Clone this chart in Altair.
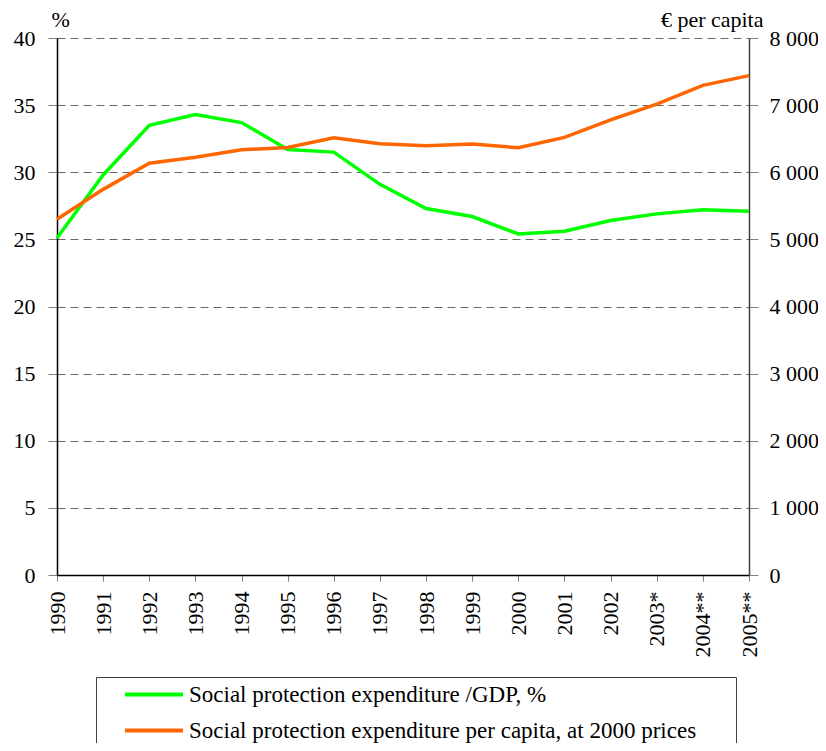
import altair as alt
import pandas as pd

years = ["1990", "1991", "1992", "1993", "1994", "1995", "1996", "1997",
         "1998", "1999", "2000", "2001", "2002", "2003*", "2004**", "2005**"]
gdp_share = [25.1, 29.8, 33.5, 34.3, 33.7, 31.7, 31.5, 29.1,
             27.3, 26.7, 25.4, 25.6, 26.4, 26.9, 27.2, 27.1]
per_capita = [5300, 5745, 6135, 6225, 6335, 6370, 6515, 6425,
              6395, 6420, 6365, 6520, 6780, 7015, 7295, 7440]
series = ["Social protection expenditure /GDP, %",
          "Social protection expenditure per capita, at 2000 prices"]
colors = ["#00FF00", "#FF6600"]
left_ticks = [0, 5, 10, 15, 20, 25, 30, 35, 40]
right_ticks = [0, 1000, 2000, 3000, 4000, 5000, 6000, 7000, 8000]

FONT = "Liberation Serif"

df1 = pd.DataFrame({"year": years, "gdp": gdp_share, "series": series[0]})
df2 = pd.DataFrame({"year": years, "percap": per_capita, "series": series[1]})

legend = alt.Legend(
    title=" ", titleOrient="right", titlePadding=34, titleFontSize=23,
    titleFont=FONT,
    orient="none", legendX=39, legendY=639, direction="vertical",
    symbolType="stroke", symbolSize=3364, symbolStrokeWidth=4,
    symbolOffset=21, labelOffset=4, padding=6, rowPadding=12, clipHeight=23,
    labelFont=FONT, labelFontSize=23, labelColor="black", labelLimit=900,
    strokeColor="#404040", fillColor="white",
)

color = alt.Color("series:N", scale=alt.Scale(domain=series, range=colors), legend=legend)

x = alt.X(
    "year:N", sort=years, title=None,
    scale=alt.Scale(type="point", padding=0),
    axis=alt.Axis(labelAngle=-90, labelAlign="right", labelBaseline="middle",
                  labelPadding=10, tickSize=6, tickColor="#808080",
                  domainColor="black", domainWidth=1.5, grid=False,
                  labelOverlap=False, labelFontSize=22),
)

left = alt.Chart(df1).mark_line(strokeWidth=3.5).encode(
    x=x,
    y=alt.Y("gdp:Q", scale=alt.Scale(domain=[0, 40], nice=False),
            axis=alt.Axis(orient="left", values=left_ticks, title="%",
                          titleAngle=0, titleAlign="left", titleBaseline="alphabetic",
                          titleX=-6, titleY=-12, grid=True, gridDash=[8, 5],
                          gridColor="#666666", gridWidth=1, tickSize=9,
                          tickColor="#808080", labelPadding=13,
                          domainColor="black", domainWidth=1.5)),
    color=color,
)

right = alt.Chart(df2).mark_line(strokeWidth=3.5).encode(
    x=x,
    y=alt.Y("percap:Q", scale=alt.Scale(domain=[0, 8000], nice=False),
            axis=alt.Axis(orient="right", values=right_ticks, title="€ per capita",
                          titleAngle=0, titleAlign="right", titleBaseline="alphabetic",
                          titleX=14, titleY=-12, grid=False, tickSize=9,
                          tickColor="#808080", labelPadding=11,
                          labelExpr="replace(format(datum.value, ','), ',', ' ')",
                          domainColor="#404040", domainWidth=1.5)),
    color=color,
)

chart = alt.layer(left, right).resolve_scale(y="independent").properties(
    width=692, height=537,
    autosize=alt.AutoSizeParams(type="none"),
    padding={"left": 49, "top": 30, "right": 69, "bottom": 168},
    background="white",
).configure_view(stroke=None).configure_axis(
    labelFont=FONT, titleFont=FONT, labelFontSize=22, titleFontSize=22,
    labelColor="black", titleColor="black", titleFontWeight="normal",
)

chart.save("out.html", embed_options={"renderer": "svg", "actions": False})
